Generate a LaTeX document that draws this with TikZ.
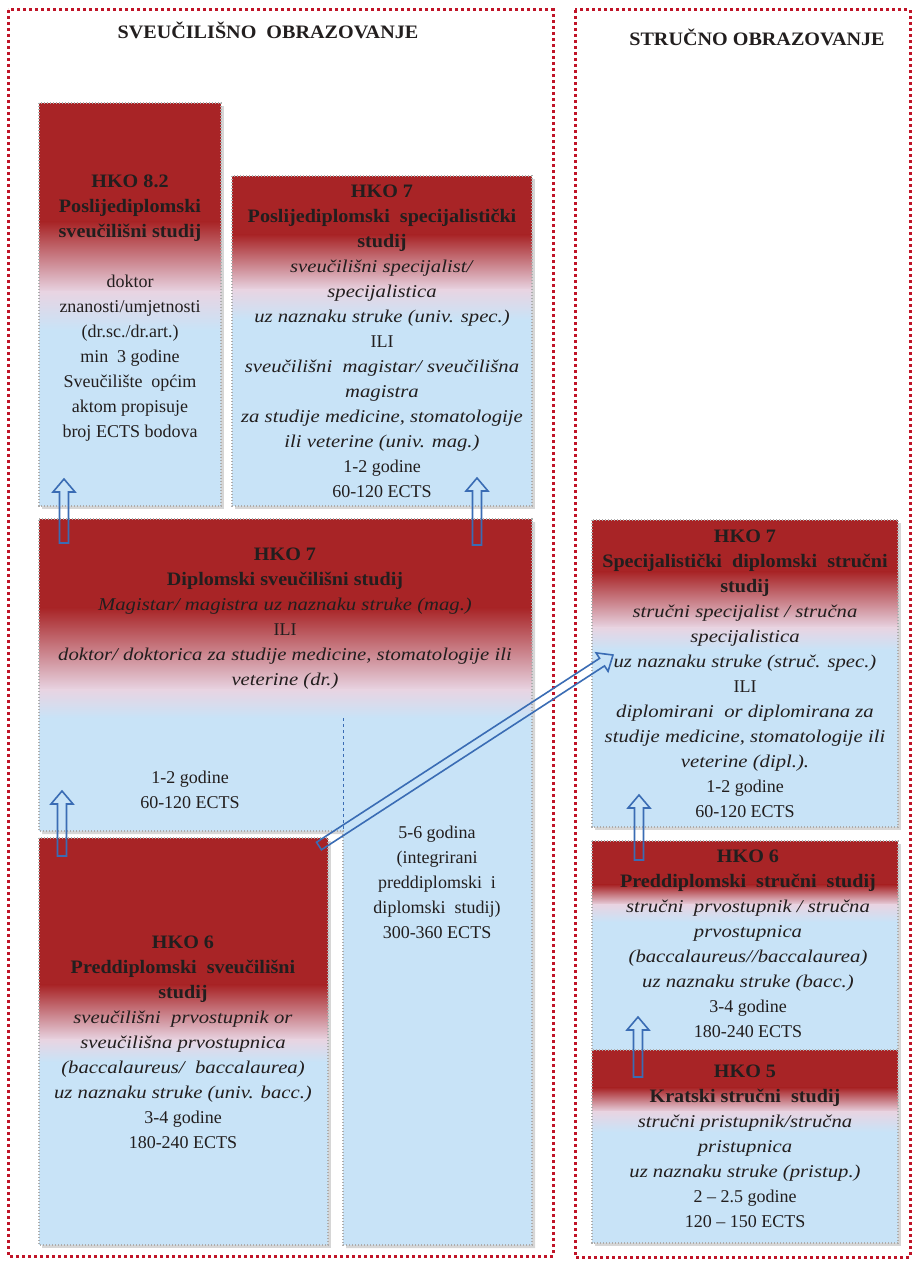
\documentclass[tikz,border=0pt]{standalone}
\usepackage{fontspec}
\setmainfont{Liberation Serif}[ItalicFeatures={FakeStretch=1.15},BoldFeatures={FakeStretch=1.06}]
\usetikzlibrary{calc}
\definecolor{hkored}{RGB}{168,36,38}
\definecolor{hkopink}{RGB}{232,212,226}
\definecolor{hkoblue}{RGB}{200,227,247}
\definecolor{framered}{RGB}{192,20,40}
\definecolor{arrowblue}{RGB}{58,108,180}
\definecolor{txt}{RGB}{34,30,30}
\tikzset{
  frame/.style={draw=framered, line width=3pt, dash pattern=on 3pt off 3pt},
  boxline/.style={draw=gray!65, line width=1.3pt, dash pattern=on 1.4pt off 1.6pt},
  boxshadow/.style={fill=black, opacity=0.16},
  arrowline/.style={draw=arrowblue, line width=1.6pt, line join=miter},
  txtnode/.style={anchor=north, align=center, inner sep=0pt, text=txt, font=\fontsize{18}{25}\selectfont},
  titlenode/.style={inner sep=0pt, text=txt, font=\fontsize{19}{22}\selectfont\bfseries},
  sepline/.style={draw=arrowblue, dashed, line width=0.6pt}
}
\newcommand{\hd}[1]{{\fontsize{19}{25}\selectfont\bfseries #1}}
% gradient box: x1,y1,x2,y2, end of red, pink level, start of blue
\newcommand{\gbox}[7]{%
  \fill[boxshadow] (#1+3,#2+3) rectangle (#3+3,#4+3);
  \fill[hkored] (#1,#2) rectangle (#3,#5);
  \shade[top color=hkored,bottom color=hkopink] (#1,#5-0.4) rectangle (#3,#6);
  \shade[top color=hkopink,bottom color=hkoblue] (#1,#6-0.4) rectangle (#3,#7);
  \fill[hkoblue] (#1,#7-0.4) rectangle (#3,#4);
  \draw[boxline] (#1,#2) rectangle (#3,#4);
}
\newcommand{\hollowarrow}[2]{%
  \path let \p1=($(#2)-(#1)$) in \pgfextra{%
    \pgfmathsetmacro{\arrang}{atan2(\y1,\x1)}%
    \pgfmathsetmacro{\arrlen}{veclen(\x1,\y1)}%
    \global\let\arrang\arrang \global\let\arrlen\arrlen};
  \draw[arrowline,shift={(#1)},rotate=\arrang]
    (0pt,-4.5pt) -- (\arrlen pt-13pt,-4.5pt) -- (\arrlen pt-13pt,-11pt) --
    (\arrlen pt,0pt) -- (\arrlen pt-13pt,11pt) -- (\arrlen pt-13pt,4.5pt) --
    (0pt,4.5pt) -- cycle;
}
\begin{document}
\begin{tikzpicture}[x=1pt,y=-1pt]
\useasboundingbox (0,0) rectangle (914,1263);
\fill[white] (0,0) rectangle (914,1263);

% containers
\draw[frame] (8,10) rectangle (553,1256);
\draw[frame] (575,10) rectangle (910,1257);
\node[titlenode] (t1) at (268,30) {SVEUČILIŠNO\ \ OBRAZOVANJE};
\node[titlenode] (t2) at (757,37) {STRUČNO OBRAZOVANJE};

% university boxes
\gbox{39}{103}{221}{506}{222}{292}{330}
\gbox{232}{176}{532}{506}{235}{290}{320}

% diplomski (inverted L shape)
\fill[boxshadow] (42,522) -- (535,522) -- (535,1248) -- (346,1248) -- (346,834) -- (42,834) -- cycle;
\fill[hkoblue] (39,519) -- (532,519) -- (532,1245) -- (343,1245) -- (343,831) -- (39,831) -- cycle;
\fill[hkored] (39,519) rectangle (532,608);
\shade[top color=hkored,bottom color=hkopink] (39,607.6) rectangle (532,690);
\shade[top color=hkopink,bottom color=hkoblue] (39,689.6) rectangle (532,718);
\draw[boxline] (39,519) -- (532,519) -- (532,1245) -- (343,1245) -- (343,831) -- (39,831) -- cycle;
\draw[sepline] (343,718) -- (343,831);

\gbox{39}{838}{328}{1245}{985}{1040}{1062}

% professional boxes
\gbox{592}{520}{898}{827}{572}{628}{650}
\gbox{592}{841}{898}{1050}{885}{905}{922}
\gbox{592}{1050}{898}{1243}{1088}{1112}{1132}

% texts
\node[txtnode] (n82) at (130,170) {\strut\hd{HKO 8.2}\\ \hd{Poslijediplomski}\\ \hd{sveučilišni studij}\\[25pt]
  doktor\\ znanosti/umjetnosti\\ (dr.sc./dr.art.)\\ min\ \ 3 godine\\ Sveučilište\ \ općim\\ aktom propisuje\\ broj ECTS bodova};

\node[txtnode] (n7p) at (382,180) {\strut\hd{HKO 7}\\ \hd{Poslijediplomski\ \ specijalistički}\\ \hd{studij}\\
  \textit{sveučilišni specijalist/}\\ \textit{specijalistica}\\ \textit{uz naznaku struke (univ. spec.)}\\ ILI\\
  \textit{sveučilišni\ \ magistar/ sveučilišna}\\ \textit{magistra}\\ \textit{za studije medicine, stomatologije}\\
  \textit{ili veterine (univ. mag.)}\\ 1-2 godine\\ 60-120 ECTS};

\node[txtnode] (ndip) at (285,543) {\strut\hd{HKO 7}\\ \hd{Diplomski sveučilišni studij}\\
  \textit{Magistar/ magistra uz naznaku struke (mag.)}\\ ILI\\
  \textit{doktor/ doktorica za studije medicine, stomatologije ili}\\ \textit{veterine (dr.)}};

\node[txtnode] (ndl) at (190,766) {\strut 1-2 godine\\ 60-120 ECTS};

\node[txtnode] (ncol) at (437,821) {\strut 5-6 godina\\ (integrirani\\ preddiplomski\ \ i\\ diplomski\ \ studij)\\ 300-360 ECTS};

\node[txtnode] (n6l) at (183,931) {\strut\hd{HKO 6}\\ \hd{Preddiplomski\ \ sveučilišni}\\ \hd{studij}\\
  \textit{sveučilišni\ \ prvostupnik or}\\ \textit{sveučilišna prvostupnica}\\ \textit{(baccalaureus/\ \ baccalaurea)}\\
  \textit{uz naznaku struke (univ. bacc.)}\\ 3-4 godine\\ 180-240 ECTS};

\node[txtnode] (nr7) at (745,525) {\strut\hd{HKO 7}\\ \hd{Specijalistički\ \ diplomski\ \ stručni}\\ \hd{studij}\\
  \textit{stručni specijalist / stručna}\\ \textit{specijalistica}\\ \textit{uz naznaku struke (struč. spec.)}\\ ILI\\
  \textit{diplomirani\ \ or diplomirana za}\\ \textit{studije medicine, stomatologije ili}\\ \textit{veterine (dipl.).}\\
  1-2 godine\\ 60-120 ECTS};

\node[txtnode] (n6s) at (748,845) {\strut\hd{HKO 6}\\ \hd{Preddiplomski\ \ stručni\ \ studij}\\
  \textit{stručni\ \ prvostupnik / stručna}\\ \textit{prvostupnica}\\ \textit{(baccalaureus//baccalaurea)}\\
  \textit{uz naznaku struke (bacc.)}\\ 3-4 godine\\ 180-240 ECTS};

\node[txtnode] (n5) at (745,1060) {\strut\hd{HKO 5}\\ \hd{Kratski stručni\ \ studij}\\
  \textit{stručni pristupnik/stručna}\\ \textit{pristupnica}\\ \textit{uz naznaku struke (pristup.)}\\
  2 – 2.5 godine\\ 120 – 150 ECTS};

% arrow end points
\coordinate (a1s) at (64,543);   \coordinate (a1e) at (64,479);
\coordinate (a2s) at (477,545);  \coordinate (a2e) at (477,478);
\coordinate (a3s) at (62,856);   \coordinate (a3e) at (62,791);
\coordinate (a4s) at (319,846);  \coordinate (a4e) at (613,655);
\coordinate (a5s) at (639,860);  \coordinate (a5e) at (639,795);
\coordinate (a6s) at (638,1077); \coordinate (a6e) at (638,1017);

\hollowarrow{a1s}{a1e}
\hollowarrow{a2s}{a2e}
\hollowarrow{a3s}{a3e}
\hollowarrow{a4s}{a4e}
\hollowarrow{a5s}{a5e}
\hollowarrow{a6s}{a6e}
\end{tikzpicture}
\end{document}
